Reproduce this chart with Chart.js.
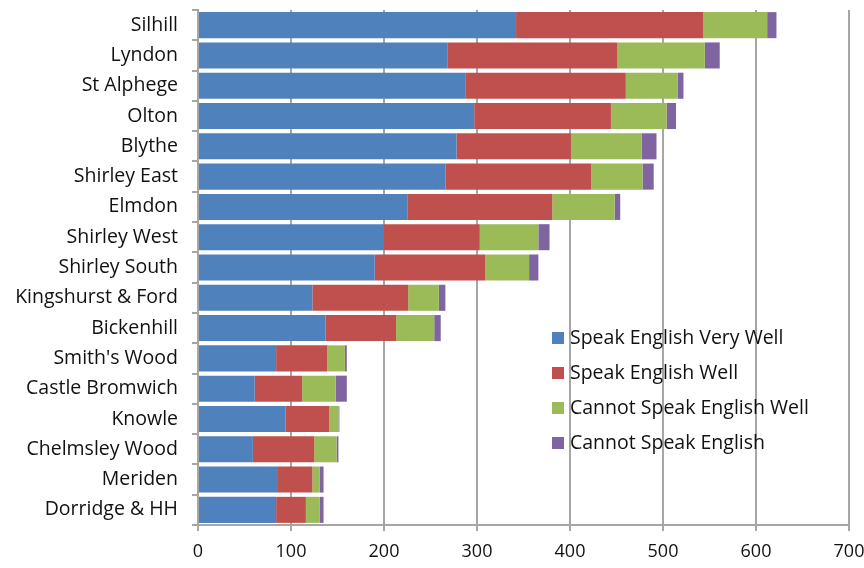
<!DOCTYPE html>
<html>
<head>
<meta charset="utf-8">
<script src="https://cdn.jsdelivr.net/npm/chart.js@4.4.1/dist/chart.umd.min.js"></script>
<style>
html,body{margin:0;padding:0;background:#fff;}
#wrap{width:864px;height:568px;position:relative;}
</style>
</head>
<body>
<div id="wrap"><canvas id="c" width="864" height="568"></canvas></div>
<script>
const categories = ["Silhill","Lyndon","St Alphege","Olton","Blythe","Shirley East","Elmdon","Shirley West","Shirley South","Kingshurst & Ford","Bickenhill","Smith's Wood","Castle Bromwich","Knowle","Chelmsley Wood","Meriden","Dorridge & HH"];
const speakVeryWell   = [342,268,288,297,278,266,225,200,190,123,137,84,61,94,59,86,84];
const speakWell       = [201,183,172,147,123,157,156,103,119,103,76,55,51,47,66,37,32];
const cannotSpeakWell = [69,94,56,60,76,55,67,63,47,33,41,19,36,10,24,8,15];
const cannotSpeak     = [10,16,6,10,16,12,6,12,10,7,7,2,12,1,2,4,4];
const seriesNames = ["Speak English Very Well","Speak English Well","Cannot Speak English Well","Cannot Speak English"];
const xTicks = [0,100,200,300,400,500,600,700];

const colors = ["#4F81BD","#C0504D","#9BBB59","#8064A2"];
const FONT = "'Open Sans', 'DejaVu Sans', sans-serif";

const legendPlugin = {
  id: 'innerLegend',
  afterDraw(chart) {
    const ctx = chart.ctx;
    ctx.save();
    ctx.font = "19.5px " + FONT;
    ctx.textBaseline = 'middle';
    ctx.textAlign = 'left';
    const x0 = 552, y0 = 338, gap = 35;
    chart.data.datasets.forEach((ds, i) => {
      const y = y0 + i * gap;
      ctx.fillStyle = ds.backgroundColor;
      ctx.fillRect(x0, y - 6, 12, 12);
      ctx.fillStyle = '#111';
      ctx.fillText(ds.label, x0 + 18, y);
    });
    ctx.restore();
  }
};

const data = {
  labels: categories,
  datasets: [speakVeryWell, speakWell, cannotSpeakWell, cannotSpeak].map((d, i) => ({
    label: seriesNames[i],
    data: d,
    backgroundColor: colors[i],
    borderWidth: 0,
    categoryPercentage: 1.0,
    barPercentage: 0.86
  }))
};

new Chart(document.getElementById('c'), {
  type: 'bar',
  data: data,
  options: {
    indexAxis: 'y',
    responsive: false,
    animation: false,
    devicePixelRatio: 1,
    layout: { padding: { left: 0, right: 15, top: 10, bottom: 0 } },
    plugins: { legend: { display: false }, tooltip: { enabled: false } },
    scales: {
      x: {
        stacked: true,
        min: 0, max: 700,
        afterBuildTicks(scale) { scale.ticks = xTicks.map(v => ({ value: v })); },
        afterFit(scale) { scale.height = 43; scale.paddingLeft = 0; scale.paddingRight = 0; },
        grid: { color: '#A6A6A6', lineWidth: 2, drawTicks: true, tickLength: 6, tickColor: '#A6A6A6' },
        border: { color: '#A6A6A6', width: 2 },
        ticks: { color: '#111', font: { family: FONT, size: 18 }, padding: 10, maxRotation: 0 }
      },
      y: {
        stacked: true,
        afterFit(scale) { scale.width = 198; scale.paddingTop = 0; scale.paddingBottom = 0; },
        grid: { drawOnChartArea: false, drawTicks: true, tickLength: 6, color: '#A6A6A6', lineWidth: 2, offset: true },
        border: { color: '#A6A6A6', width: 2 },
        ticks: { color: '#111', font: { family: FONT, size: 19.5 }, padding: 14, autoSkip: false }
      }
    }
  },
  plugins: [legendPlugin]
});
</script>
</body>
</html>
